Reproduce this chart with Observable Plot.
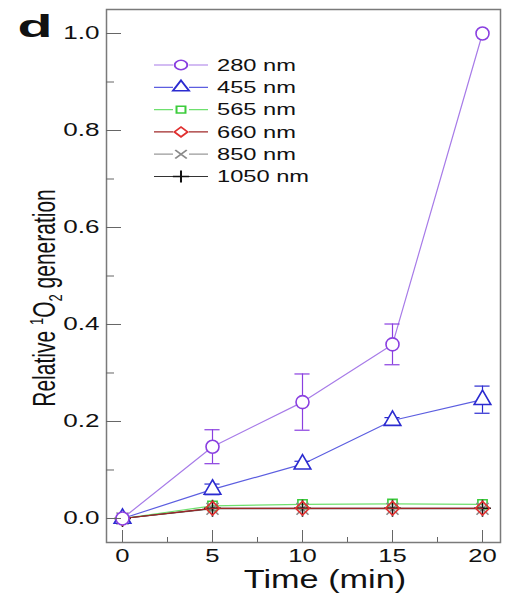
<!DOCTYPE html>
<html><head><meta charset="utf-8">
<script src="https://cdn.jsdelivr.net/npm/d3@7"></script>
<script src="https://cdn.jsdelivr.net/npm/@observablehq/plot@0.6"></script>
<style>
html,body{margin:0;padding:0;background:#fff;}
#chart{position:relative;width:510px;height:597px;}
#chart svg{font-family:"Liberation Sans",Arial,sans-serif;}
</style></head><body><div id="chart"></div>
<script>
const times = [0, 5, 10, 15, 20];
const series = ["280 nm", "455 nm", "565 nm", "660 nm", "850 nm", "1050 nm"];
const v280 = [0, 0.148, 0.240, 0.359, 1.000];
const e280 = [0, 0.035, 0.058, 0.042, 0.000];
const v455 = [0, 0.060, 0.112, 0.202, 0.245];
const e455 = [0, 0.011, 0.006, 0.006, 0.028];
const v565 = [0, 0.026, 0.029, 0.030, 0.029];
const e565 = [0, 0.000, 0.000, 0.000, 0.000];
const v660 = [0, 0.021, 0.021, 0.021, 0.021];
const v850 = [0, 0.020, 0.020, 0.020, 0.020];
const v1050 = [0, 0.021, 0.021, 0.021, 0.021];
const zeroErr = [0, 0, 0, 0, 0];
const yTicks = [0, 0.2, 0.4, 0.6, 0.8, 1.0];
const yMinor = [0.1, 0.3, 0.5, 0.7, 0.9];
const xTicks = [0, 5, 10, 15, 20];
const xMinor = [2.5, 7.5, 12.5, 17.5];

const values = [v280, v455, v565, v660, v850, v1050];
const errors = [e280, e455, e565, zeroErr, zeroErr, zeroErr];
const lineColors = ["#a77be8", "#5c5ee0", "#6ee06e", "#a02828", "#9a9a9a", "#333333"];
const markColors = ["#8a3fe0", "#2b2bd0", "#3ccc3c", "#e03030", "#8a8a8a", "#111111"];
const symbols = ["circle", "triangle", "square", "diamond2", "times", "plus"];
const radii = [6.5, 6.2, 5.2, 6.2, 5.5, 5.5];
const fills = ["white", "white", "none", "none", "none", "none"];
const drawOrder = [2, 4, 5, 3, 1, 0];

const rows = [];
series.forEach((s, i) => times.forEach((t, j) => rows.push({series: s, i, t, v: values[i][j], e: errors[i][j]})));

const marks = [Plot.frame({stroke: "#7a7a7a", strokeWidth: 1.5})];
drawOrder.forEach(i => {
  const d = rows.filter(r => r.i === i);
  const de = d.filter(r => r.e > 0);
  marks.push(Plot.line(d, {x: "t", y: "v", stroke: lineColors[i], strokeWidth: 1.2}));
  marks.push(Plot.ruleX(de, {x: "t", y1: r => r.v - r.e, y2: r => r.v + r.e, stroke: markColors[i], strokeWidth: 1.2}));
  marks.push(Plot.ruleY(de, {y: r => r.v + r.e, x1: r => r.t - 0.42, x2: r => r.t + 0.42, stroke: markColors[i], strokeWidth: 1.2}));
  marks.push(Plot.ruleY(de, {y: r => r.v - r.e, x1: r => r.t - 0.42, x2: r => r.t + 0.42, stroke: markColors[i], strokeWidth: 1.2}));
  marks.push(Plot.dot(d, {x: "t", y: "v", symbol: symbols[i], r: radii[i], stroke: markColors[i], fill: fills[i], strokeWidth: 1.6}));
});
// axes
marks.push(Plot.axisY(yTicks, {tickSize: 0, tickPadding: 7, tickFormat: d3.format(".1f"), fontSize: 18, fill: "#111", label: null}));
marks.push(Plot.axisY(yTicks, {tickSize: -15, fill: "none", stroke: "#666", label: null}));
marks.push(Plot.axisY(yMinor, {tickSize: -8, fill: "none", stroke: "#666", label: null}));
marks.push(Plot.axisX(xTicks, {tickSize: 0, tickPadding: 6, fontSize: 19, fill: "#111", label: null}));
marks.push(Plot.axisX(xTicks, {tickSize: -12, fill: "none", stroke: "#666", label: null}));
marks.push(Plot.axisX(xMinor, {tickSize: -5, fill: "none", stroke: "#666", label: null}));

const plot = Plot.plot({
  width: 510, height: 597,
  marginLeft: 106, marginRight: 10, marginTop: 9, marginBottom: 55,
  x: {domain: [-0.889, 21.0], label: null},
  y: {domain: [-0.0495, 1.0495], label: null},
  style: {fontFamily: '"Liberation Sans", Arial, sans-serif', fontSize: "18px", background: "white", color: "#111"},
  marks
});
document.getElementById("chart").appendChild(plot);

// horizontally widen tick labels to match the reference's wide lettering
function widen(node, s) {
  let t = node.getAttribute("transform");
  if (!t) {
    const x = node.getAttribute("x") || 0, y = node.getAttribute("y") || 0;
    node.removeAttribute("x"); node.removeAttribute("y");
    t = `translate(${x},${y})`;
  }
  node.setAttribute("transform", `${t} scale(${s},1)`);
}
const svg = d3.select(plot);
svg.selectAll('g[aria-label="y-axis tick label"] text').each(function () { widen(this, 1.45); });
svg.selectAll('g[aria-label="x-axis tick label"] text').each(function () { widen(this, 1.35); });

const ff = '"Liberation Sans", Arial, sans-serif';
// panel letter
svg.append("text").attr("transform", "translate(35,37) scale(1.85,1)")
  .attr("text-anchor", "middle").attr("font-family", ff).attr("font-weight", "bold")
  .attr("font-size", 31).attr("fill", "#111").text("d");
// x label
svg.append("text").attr("transform", "translate(325,588) scale(1.37,1)")
  .attr("text-anchor", "middle").attr("font-family", ff).attr("font-size", 25)
  .attr("fill", "#111").text("Time (min)");
// y label
const yl = svg.append("text").attr("transform", "translate(55,298) rotate(-90) scale(1,1.45)")
  .attr("text-anchor", "middle").attr("font-family", ff).attr("font-size", 21).attr("fill", "#111");
yl.append("tspan").text("Relative ");
yl.append("tspan").attr("font-size", 13).attr("dy", -8).text("1");
yl.append("tspan").attr("dy", 8).text("O");
yl.append("tspan").attr("font-size", 13).attr("dy", 5).text("2");
yl.append("tspan").attr("dy", -5).text(" generation");

// legend
const lg = svg.append("g");
series.forEach((s, i) => {
  const y = 65 + i * 22.3;
  lg.append("line").attr("x1", 154).attr("x2", 208).attr("y1", y).attr("y2", y)
    .attr("stroke", lineColors[i]).attr("stroke-width", 1.2);
  const sym = {circle: d3.symbolCircle, triangle: d3.symbolTriangle, square: d3.symbolSquare,
               diamond2: d3.symbolDiamond2, times: d3.symbolTimes, plus: d3.symbolPlus}[symbols[i]];
  const rr = radii[i] * 0.72;
  lg.append("rect").attr("x", 173).attr("y", y - 7).attr("width", 16).attr("height", 14)
    .attr("fill", "white");
  lg.append("path").attr("d", d3.symbol(sym, Math.PI * rr * rr)())
    .attr("transform", `translate(181,${y}) scale(1.35,1)`)
    .attr("fill", "none").attr("stroke", markColors[i]).attr("stroke-width", 1.5);
  lg.append("text").attr("transform", `translate(217,${y}) scale(1.48,1)`)
    .attr("text-anchor", "start").attr("dy", "0.36em").attr("font-family", ff)
    .attr("font-size", 16).attr("fill", "#111").text(s);
});
</script></body></html>
